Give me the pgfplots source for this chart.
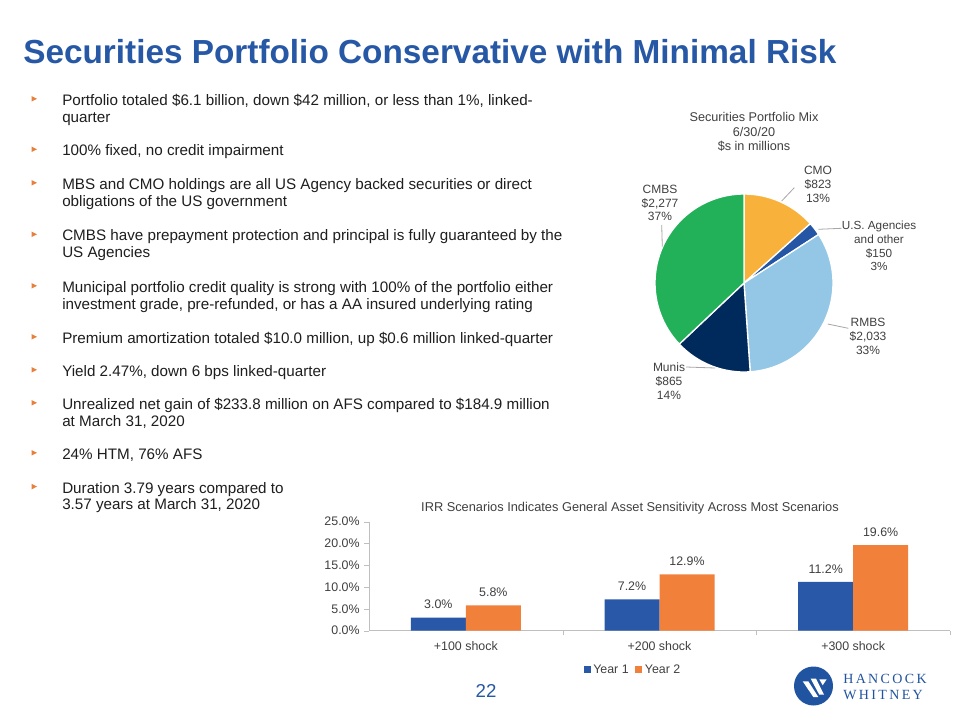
\documentclass[border=0pt]{standalone}
\usepackage{pgfplots}
\pgfplotsset{compat=1.18}
\usepackage{pgfplotstable}
\usepackage{fontspec}
\setmainfont{Liberation Sans}
\newfontfamily\logofont[LetterSpace=17]{Liberation Serif}
\definecolor{titleblue}{RGB}{38,88,166}
\definecolor{bodytext}{RGB}{30,30,30}
\definecolor{bulletorange}{RGB}{232,128,60}
\definecolor{labelgray}{RGB}{64,64,64}
\definecolor{axisgray}{RGB}{191,191,191}
\definecolor{leadergray}{RGB}{166,166,166}
\definecolor{yearone}{RGB}{42,88,168}
\definecolor{yeartwo}{RGB}{241,128,59}
\definecolor{cmo}{RGB}{248,178,60}
\definecolor{agency}{RGB}{36,86,165}
\definecolor{rmbs}{RGB}{148,198,230}
\definecolor{munis}{RGB}{0,42,92}
\definecolor{cmbs}{RGB}{34,176,89}
\definecolor{logoblue}{RGB}{33,84,160}

\pgfplotstableread{
x  y1   y2
0  3.0  5.8
1  7.2  12.9
2  11.2 19.6
}\irrdata

\def\vCMO{823}\def\vAGY{150}\def\vRMBS{2033}\def\vMUNI{865}\def\vCMBS{2277}

\newcommand{\bl}[2]{\node[anchor=base west,inner sep=0pt,font=\fontsize{11.4}{13}\selectfont,text=bodytext] at (62,#1) {#2};}
\newcommand{\bul}[1]{\fill[bulletorange] (31.5,#1-9.5) -- (37,#1-6.7) -- (31.5,#1-3.9) -- cycle;}

\begin{document}
\begin{tikzpicture}
\pgfmathsetmacro{\tot}{\vCMO+\vAGY+\vRMBS+\vMUNI+\vCMBS}
\pgfmathsetmacro{\aA}{90}
\pgfmathsetmacro{\aB}{\aA-360*(\vCMO/\tot)}
\pgfmathsetmacro{\aC}{\aB-360*(\vAGY/\tot)}
\pgfmathsetmacro{\aD}{\aC-360*(\vRMBS/\tot)}
\pgfmathsetmacro{\aE}{\aD-360*(\vMUNI/\tot)}
\pgfmathsetmacro{\aF}{\aE-360*(\vCMBS/\tot)}
\fill[white] (0pt,0pt) rectangle (720pt,-540pt);

% ---------- pie chart ----------
\begin{axis}[at={(558pt,-212.25pt)}, anchor=center, scale only axis,
  width=133.5pt, height=133.5pt, xmin=-1, xmax=1, ymin=-1, ymax=1,
  hide axis, clip=false]
\fill[cmo,draw=white,line width=1pt] (axis cs:0,0) -- (axis cs:{cos(\aA)},{sin(\aA)}) arc[start angle=\aA,end angle=\aB,radius=66.75pt] -- cycle;
\fill[agency,draw=white,line width=1pt] (axis cs:0,0) -- (axis cs:{cos(\aB)},{sin(\aB)}) arc[start angle=\aB,end angle=\aC,radius=66.75pt] -- cycle;
\fill[rmbs,draw=white,line width=1pt] (axis cs:0,0) -- (axis cs:{cos(\aC)},{sin(\aC)}) arc[start angle=\aC,end angle=\aD,radius=66.75pt] -- cycle;
\fill[munis,draw=white,line width=1pt] (axis cs:0,0) -- (axis cs:{cos(\aD)},{sin(\aD)}) arc[start angle=\aD,end angle=\aE,radius=66.75pt] -- cycle;
\fill[cmbs,draw=white,line width=1pt] (axis cs:0,0) -- (axis cs:{cos(\aE)},{sin(\aE)}) arc[start angle=\aE,end angle=\aF,radius=66.75pt] -- cycle;
\end{axis}

% ---------- bar chart ----------
\begin{axis}[at={(276.75pt,-473.0pt)}, anchor=south west, scale only axis,
  width=435.75pt, height=81.75pt,
  ybar=0pt, bar width=41.25pt,
  xmin=-0.5, xmax=2.5, ymin=0, ymax=25,
  axis lines*=left, axis line style={draw=axisgray},
  xtick={0.5,1.5,2.5}, xticklabels={},
  extra x ticks={0,1,2}, extra x tick labels={+100 shock,+200 shock,+300 shock},
  extra x tick style={major tick length=0pt, xticklabel style={yshift=-4.5pt}},
  ytick={0,5,10,15,20,25},
  yticklabel={\pgfmathprintnumber[fixed,fixed zerofill,precision=1]{\tick}\%},
  tick align=outside, major tick length=3.5pt, tick style={draw=axisgray},
  /pgf/number format/assume math mode=true,
  ticklabel style={font=\fontsize{9.3}{11}\selectfont, text=labelgray},
  nodes near coords={\pgfmathprintnumber[fixed,fixed zerofill,precision=1]{\pgfplotspointmeta}\%},
  nodes near coords style={font=\fontsize{9.3}{11}\selectfont, text=labelgray, yshift=3pt},
  legend style={at={(0.455,-0.36)}, anchor=center, draw=none, fill=none,
    legend columns=2, font=\fontsize{9.3}{11}\selectfont, text=labelgray,
    /tikz/every even column/.append style={column sep=3pt}},
  legend image code/.code={\fill[#1] (0pt,-2.6pt) rectangle (5.2pt,2.6pt);},
  clip=false]
\addplot[fill=yearone, draw=none] table[x=x,y=y1]{\irrdata};
\addplot[fill=yeartwo, draw=none] table[x=x,y=y2]{\irrdata};
\legend{Year 1,Year 2}
\end{axis}

\begin{scope}[x=0.75pt,y=-0.75pt]
% title
\node[anchor=base west,inner sep=0pt,font=\fontsize{25}{28}\selectfont\bfseries,text=titleblue] at (23,64) {Securities Portfolio Conservative with Minimal Risk};

% bullets
\bul{105.5}\bl{105.5}{Portfolio totaled \$6.1 billion, down \$42 million, or less than 1\%, linked-}
\bl{122.5}{quarter}
\bul{156}\bl{156}{100\% fixed, no credit impairment}
\bul{189.5}\bl{189.5}{MBS and CMO holdings are all US Agency backed securities or direct}
\bl{206.5}{obligations of the US government}
\bul{241}\bl{241}{CMBS have prepayment protection and principal is fully guaranteed by the}
\bl{258}{US Agencies}
\bul{292.5}\bl{292.5}{Municipal portfolio credit quality is strong with 100\% of the portfolio either}
\bl{309.5}{investment grade, pre-refunded, or has a AA insured underlying rating}
\bul{343.5}\bl{343.5}{Premium amortization totaled \$10.0 million, up \$0.6 million linked-quarter}
\bul{376.5}\bl{376.5}{Yield 2.47\%, down 6 bps linked-quarter}
\bul{409.5}\bl{409.5}{Unrealized net gain of \$233.8 million on AFS compared to \$184.9 million}
\bl{426.5}{at March 31, 2020}
\bul{459.5}\bl{459.5}{24\% HTM, 76\% AFS}
\bul{493.3}\bl{493.3}{Duration 3.79 years compared to}
\bl{509.5}{3.57 years at March 31, 2020}

% pie title and labels
\node[align=center,font=\fontsize{9.5}{10.9}\selectfont,text=labelgray] at (754,131.9) {Securities Portfolio Mix\\6/30/20\\\$s in millions};
\node[align=center,font=\fontsize{9}{10.4}\selectfont,text=labelgray] at (818,184.5) {CMO\\\$823\\13\%};
\node[align=center,font=\fontsize{8.8}{10.3}\selectfont,text=labelgray] at (879,246) {U.S. Agencies\\and other\\\$150\\3\%};
\node[align=center,font=\fontsize{9}{10.4}\selectfont,text=labelgray] at (868,336.5) {RMBS\\\$2,033\\33\%};
\node[align=center,font=\fontsize{9}{10.4}\selectfont,text=labelgray] at (669,381) {Munis\\\$865\\14\%};
\node[align=center,font=\fontsize{9}{10.4}\selectfont,text=labelgray] at (660,203) {CMBS\\\$2,277\\37\%};
\draw[leadergray,line width=0.6pt] (781.7,201) -- (794.3,187.7);
\draw[leadergray,line width=0.6pt] (818.3,229.3) -- (841.5,228.3);
\draw[leadergray,line width=0.6pt] (827.7,324) -- (848.3,328.3);
\draw[leadergray,line width=0.6pt] (686,367) -- (715,368);
\draw[leadergray,line width=0.6pt] (661.7,225) -- (662.3,246.7);

% bar chart title
\node[font=\fontsize{9.6}{11}\selectfont,text=labelgray] at (630,508) {IRR Scenarios Indicates General Asset Sensitivity Across Most Scenarios};

% page number
\node[font=\fontsize{14}{16}\selectfont,text=titleblue] at (486,691) {22};

% logo
\fill[logoblue] (813.5,686) circle[radius=19.5];
\fill[white] (802.7,681.3) -- (808.3,681.3) -- (818.3,697) -- (813.3,697) -- cycle;
\fill[white] (810.7,678.7) -- (816,678.7) -- (824,694.7) -- (819.3,694.7) -- cycle;
\fill[white] (819.3,679.3) -- (826.7,679.3) -- (822.7,685.3) -- cycle;
\node[anchor=base west,inner sep=0pt,font=\logofont\fontsize{10.5}{12}\selectfont,text=logoblue] at (843,683) {HANCOCK};
\node[anchor=base west,inner sep=0pt,font=\logofont\fontsize{10.5}{12}\selectfont,text=logoblue] at (843,699) {WHITNEY};
\end{scope}
\pgfresetboundingbox
\useasboundingbox (0pt,0pt) rectangle (720pt,-540pt);
\end{tikzpicture}
\end{document}
